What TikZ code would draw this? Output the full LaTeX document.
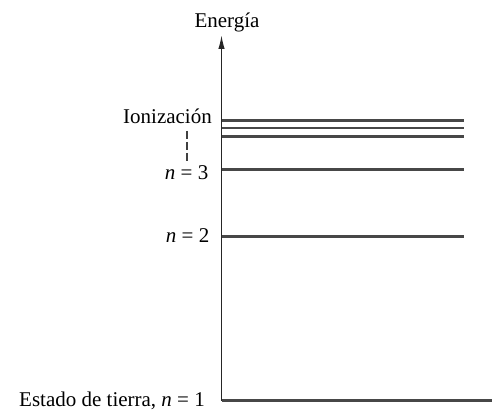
\documentclass[tikz,border=0pt]{standalone}
\usepackage{fontspec}
\setmainfont{Liberation Serif}
\usetikzlibrary{arrows.meta}
\begin{document}
\begin{tikzpicture}[x=1pt,y=1pt,
  lbl/.style={inner sep=0pt,font=\fontsize{21}{25}\selectfont},
  level/.style={line width=2.6pt,draw=black!72},
  axis/.style={line width=1.5pt,draw=black!85,-{Latex[length=14pt,width=6.5pt]}}]
\useasboundingbox (0,0) rectangle (492,410);
\coordinate (o) at (221.5,9.5);
\coordinate (top) at (221.5,375);
\coordinate (br) at (492,9.5);
\draw[level] (o) -- (br);
\draw[axis] (o) -- (top);
\node[lbl,anchor=base] (energia) at (227,382.5) {Energía};
% levels
\foreach \n/\y in {i1/289.3,i2/282,i3/273.3,l3/240.7,l2/173.3}{
  \coordinate (\n a) at (221.5,\y);
  \coordinate (\n b) at (464,\y);
  \draw[level] (\n a) -- (\n b);
}
\node[lbl,anchor=base east] (ion) at (212,286.7) {Ionización};
\node[lbl,anchor=base east] (n3) at (208.5,230.7) {\textit{n} = 3};
\node[lbl,anchor=base east] (n2) at (209.5,167.3) {\textit{n} = 2};
\node[lbl,anchor=base east] (n1) at (205,4) {Estado de tierra, \textit{n} = 1};
\coordinate (d1) at (187,279);
\coordinate (d2) at (187,248);
\draw[line width=1.8pt,draw=black!75,dash pattern=on 8pt off 3pt] (d1) -- (d2);
\end{tikzpicture}
\end{document}
